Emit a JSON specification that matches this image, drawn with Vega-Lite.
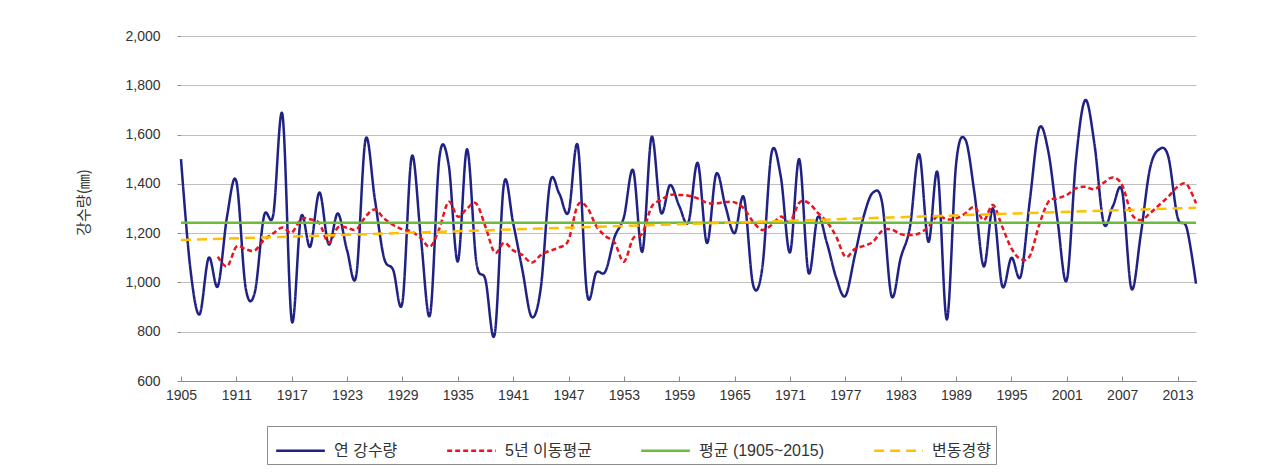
{
  "$schema": "https://vega.github.io/schema/vega-lite/v6.json",
  "width": 1015,
  "height": 345,
  "autosize": {"type": "none"},
  "padding": {"left": 181, "top": 36, "right": 78, "bottom": 93},
  "config": {"view": {"stroke": null}, "font": "Liberation Sans, Noto Sans CJK KR"},
  "datasets": {
    "annual": [
      {"year":1905,"value":1500},{"year":1906,"value":1060},{"year":1907,"value":870},{"year":1908,"value":1100},{"year":1909,"value":985},
      {"year":1910,"value":1270},{"year":1911,"value":1410},{"year":1912,"value":980},{"year":1913,"value":960},{"year":1914,"value":1270},
      {"year":1915,"value":1275},{"year":1916,"value":1680},{"year":1917,"value":845},{"year":1918,"value":1265},{"year":1919,"value":1145},
      {"year":1920,"value":1365},{"year":1921,"value":1155},{"year":1922,"value":1280},{"year":1923,"value":1130},{"year":1924,"value":1030},
      {"year":1925,"value":1580},{"year":1926,"value":1340},{"year":1927,"value":1100},{"year":1928,"value":1050},{"year":1929,"value":920},
      {"year":1930,"value":1510},{"year":1931,"value":1180},{"year":1932,"value":870},{"year":1933,"value":1505},{"year":1934,"value":1480},
      {"year":1935,"value":1085},{"year":1936,"value":1540},{"year":1937,"value":1085},{"year":1938,"value":1010},{"year":1939,"value":790},
      {"year":1940,"value":1400},{"year":1941,"value":1240},{"year":1942,"value":1050},{"year":1943,"value":860},{"year":1944,"value":980},
      {"year":1945,"value":1405},{"year":1946,"value":1360},{"year":1947,"value":1285},{"year":1948,"value":1555},{"year":1949,"value":955},
      {"year":1950,"value":1040},{"year":1951,"value":1045},{"year":1952,"value":1185},{"year":1953,"value":1265},{"year":1954,"value":1455},
      {"year":1955,"value":1125},{"year":1956,"value":1590},{"year":1957,"value":1285},{"year":1958,"value":1395},{"year":1959,"value":1310},
      {"year":1960,"value":1245},{"year":1961,"value":1485},{"year":1962,"value":1160},{"year":1963,"value":1440},{"year":1964,"value":1310},
      {"year":1965,"value":1200},{"year":1966,"value":1345},{"year":1967,"value":990},{"year":1968,"value":1060},{"year":1969,"value":1525},
      {"year":1970,"value":1430},{"year":1971,"value":1122},{"year":1972,"value":1500},{"year":1973,"value":1040},{"year":1974,"value":1265},
      {"year":1975,"value":1160},{"year":1976,"value":1020},{"year":1977,"value":945},{"year":1978,"value":1105},{"year":1979,"value":1270},
      {"year":1980,"value":1365},{"year":1981,"value":1320},{"year":1982,"value":945},{"year":1983,"value":1100},{"year":1984,"value":1225},
      {"year":1985,"value":1520},{"year":1986,"value":1165},{"year":1987,"value":1445},{"year":1988,"value":850},{"year":1989,"value":1480},
      {"year":1990,"value":1580},{"year":1991,"value":1360},{"year":1992,"value":1065},{"year":1993,"value":1300},{"year":1994,"value":985},
      {"year":1995,"value":1100},{"year":1996,"value":1025},{"year":1997,"value":1335},{"year":1998,"value":1625},{"year":1999,"value":1530},
      {"year":2000,"value":1250},{"year":2001,"value":1010},{"year":2002,"value":1500},{"year":2003,"value":1740},{"year":2004,"value":1560},
      {"year":2005,"value":1240},{"year":2006,"value":1310},{"year":2007,"value":1370},{"year":2008,"value":975},{"year":2009,"value":1190},
      {"year":2010,"value":1460},{"year":2011,"value":1540},{"year":2012,"value":1510},{"year":2013,"value":1265},{"year":2014,"value":1220},
      {"year":2015,"value":995}
    ],
    "ma": [
      {"year":1909,"value":1105},{"year":1910,"value":1065},{"year":1911,"value":1145},{"year":1912,"value":1135},{"year":1913,"value":1130},
      {"year":1914,"value":1172},{"year":1915,"value":1199},{"year":1916,"value":1223},{"year":1917,"value":1202},{"year":1918,"value":1257},
      {"year":1919,"value":1256},{"year":1920,"value":1240},{"year":1921,"value":1161},{"year":1922,"value":1223},{"year":1923,"value":1222},
      {"year":1924,"value":1215},{"year":1925,"value":1267},{"year":1926,"value":1296},{"year":1927,"value":1260},{"year":1928,"value":1233},
      {"year":1929,"value":1215},{"year":1930,"value":1206},{"year":1931,"value":1179},{"year":1932,"value":1145},{"year":1933,"value":1219},
      {"year":1934,"value":1327},{"year":1935,"value":1267},{"year":1936,"value":1300},{"year":1937,"value":1320},{"year":1938,"value":1226},
      {"year":1939,"value":1121},{"year":1940,"value":1161},{"year":1941,"value":1130},{"year":1942,"value":1111},{"year":1943,"value":1080},
      {"year":1944,"value":1111},{"year":1945,"value":1129},{"year":1946,"value":1142},{"year":1947,"value":1172},{"year":1948,"value":1314},
      {"year":1949,"value":1305},{"year":1950,"value":1229},{"year":1951,"value":1188},{"year":1952,"value":1161},{"year":1953,"value":1084},
      {"year":1954,"value":1179},{"year":1955,"value":1199},{"year":1956,"value":1307},{"year":1957,"value":1334},{"year":1958,"value":1355},
      {"year":1959,"value":1355},{"year":1960,"value":1352},{"year":1961,"value":1341},{"year":1962,"value":1323},{"year":1963,"value":1321},
      {"year":1964,"value":1326},{"year":1965,"value":1325},{"year":1966,"value":1300},{"year":1967,"value":1246},{"year":1968,"value":1213},
      {"year":1969,"value":1233},{"year":1970,"value":1267},{"year":1971,"value":1246},{"year":1972,"value":1323},{"year":1973,"value":1323},
      {"year":1974,"value":1283},{"year":1975,"value":1246},{"year":1976,"value":1186},{"year":1977,"value":1104},{"year":1978,"value":1135},
      {"year":1979,"value":1148},{"year":1980,"value":1165},{"year":1981,"value":1210},{"year":1982,"value":1215},{"year":1983,"value":1196},
      {"year":1984,"value":1192},{"year":1985,"value":1199},{"year":1986,"value":1226},{"year":1987,"value":1269},{"year":1988,"value":1256},
      {"year":1989,"value":1260},{"year":1990,"value":1280},{"year":1991,"value":1307},{"year":1992,"value":1253},{"year":1993,"value":1314},
      {"year":1994,"value":1226},{"year":1995,"value":1138},{"year":1996,"value":1094},{"year":1997,"value":1108},{"year":1998,"value":1233},
      {"year":1999,"value":1327},{"year":2000,"value":1341},{"year":2001,"value":1355},{"year":2002,"value":1382},{"year":2003,"value":1388},
      {"year":2004,"value":1378},{"year":2005,"value":1405},{"year":2006,"value":1426},{"year":2007,"value":1395},{"year":2008,"value":1280},
      {"year":2009,"value":1253},{"year":2010,"value":1280},{"year":2011,"value":1314},{"year":2012,"value":1348},{"year":2013,"value":1388},
      {"year":2014,"value":1398},{"year":2015,"value":1321}
    ],
    "mean": [{"year":1905,"value":1242},{"year":2015,"value":1242}],
    "trend": [{"year":1905,"value":1172},{"year":2015,"value":1303}]
  },
  "encoding": {
    "x": {
      "field": "year", "type": "quantitative",
      "scale": {"domain": [1905, 2015], "nice": false, "zero": false},
      "axis": {
        "values": [1905,1911,1917,1923,1929,1935,1941,1947,1953,1959,1965,1971,1977,1983,1989,1995,2001,2007,2013],
        "format": "d", "title": null, "grid": false,
        "domainColor": "#8c8c8c", "tickColor": "#8c8c8c", "tickSize": -5,
        "labelFontSize": 14, "labelColor": "#333333", "labelPadding": 12, "labelFlush": false
      }
    },
    "y": {
      "field": "value", "type": "quantitative",
      "scale": {"domain": [600, 2000], "nice": false, "zero": false},
      "axis": {
        "values": [600,800,1000,1200,1400,1600,1800,2000],
        "format": ",d", "title": "강수량(㎜)", "grid": true, "gridColor": "#bfbfbf",
        "domain": false, "tickColor": "#8c8c8c", "tickSize": 4,
        "labelFontSize": 14, "labelColor": "#333333", "labelPadding": 17,
        "titleFontSize": 15, "titleFontWeight": "normal", "titleColor": "#333333",
        "titlePadding": 33, "titleFont": "Noto Sans CJK KR", "titleY": 166
      }
    },
    "color": {
      "field": "series", "type": "nominal",
      "scale": {"domain": ["연 강수량","5년 이동평균","평균 (1905~2015)","변동경향"], "range": ["#1f2185","#e8141e","#6cbb3c","#ffc000"]},
      "legend": {
        "orient": "none", "legendX": 86, "legendY": 390, "direction": "horizontal", "columns": 4,
        "title": null, "symbolType": "M-1.35,0H1.35", "symbolSize": 1300, "symbolStrokeWidth": 2.5, "symbolOffset": 9,
        "labelFontSize": 16, "labelColor": "#333333", "labelOffset": 14, "columnPadding": 44,
        "padding": 5, "strokeColor": "#8c8c8c", "labelLimit": 300
      }
    },
    "strokeDash": {
      "field": "series", "type": "nominal",
      "scale": {"domain": ["연 강수량","5년 이동평균","평균 (1905~2015)","변동경향"], "range": [[1,0],[5,3],[1,0],[10,6]]},
      "legend": {
        "orient": "none", "legendX": 86, "legendY": 390, "direction": "horizontal", "columns": 4,
        "title": null, "symbolType": "M-1.35,0H1.35", "symbolSize": 1300, "symbolStrokeWidth": 2.5, "symbolOffset": 9,
        "labelFontSize": 16, "labelColor": "#333333", "labelOffset": 14, "columnPadding": 44,
        "padding": 5, "strokeColor": "#8c8c8c", "labelLimit": 300
      }
    }
  },
  "layer": [
    {
      "data": {"name": "annual"},
      "transform": [{"calculate": "'연 강수량'", "as": "series"}],
      "mark": {"type": "line", "interpolate": "cardinal", "strokeWidth": 2.5}
    },
    {
      "data": {"name": "ma"},
      "transform": [{"calculate": "'5년 이동평균'", "as": "series"}],
      "mark": {"type": "line", "interpolate": "cardinal", "strokeWidth": 2.5}
    },
    {
      "data": {"name": "mean"},
      "transform": [{"calculate": "'평균 (1905~2015)'", "as": "series"}],
      "mark": {"type": "line", "strokeWidth": 2.5}
    },
    {
      "data": {"name": "trend"},
      "transform": [{"calculate": "'변동경향'", "as": "series"}],
      "mark": {"type": "line", "strokeWidth": 2.5}
    }
  ]
}
